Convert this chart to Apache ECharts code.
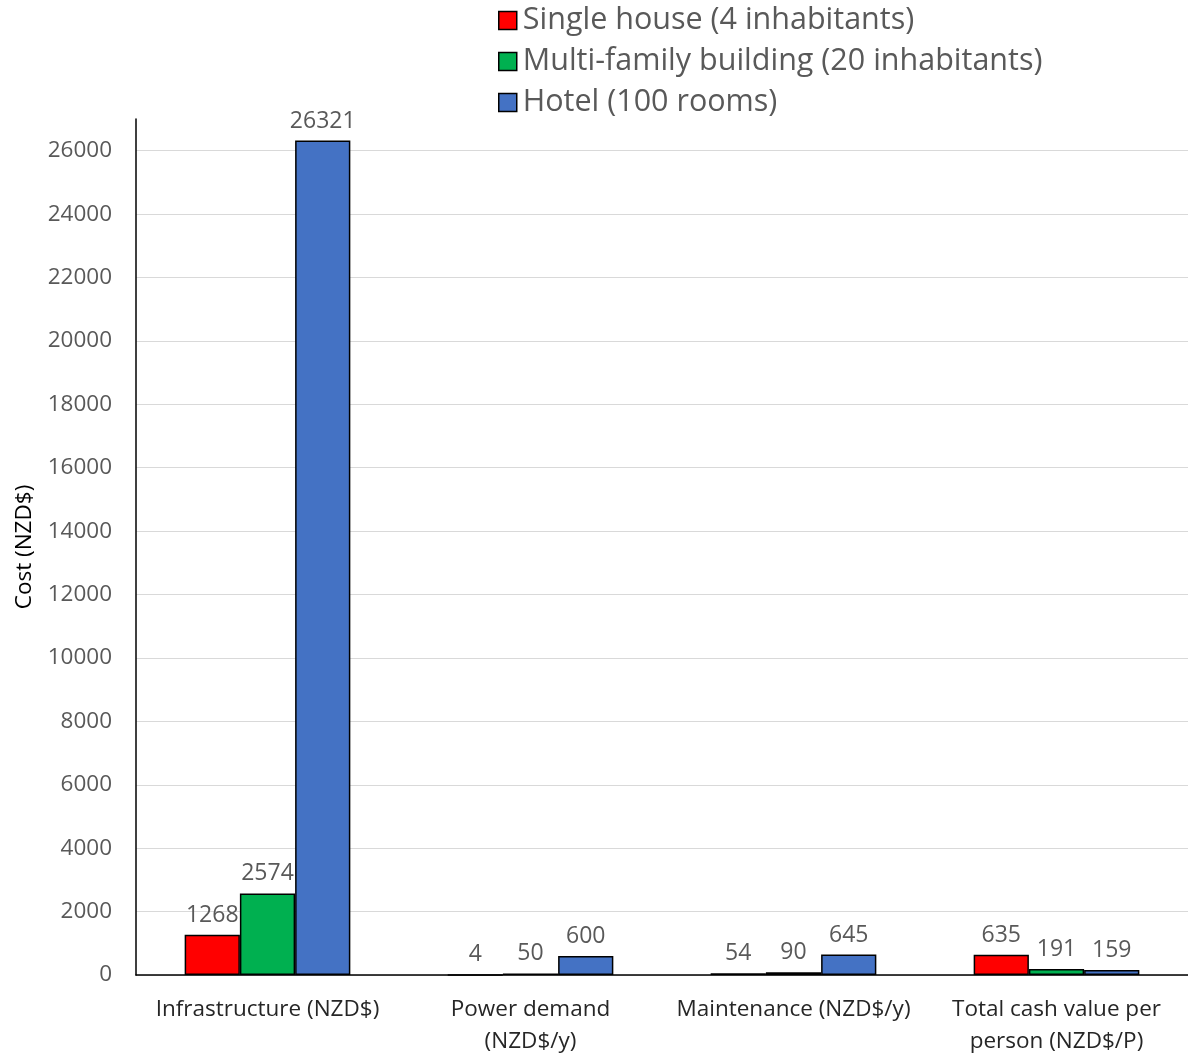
<!DOCTYPE html>
<html>
<head>
<meta charset="utf-8">
<script src="https://cdn.jsdelivr.net/npm/echarts@6/dist/echarts.min.js"></script>
<style>
  html, body { margin: 0; padding: 0; background: #fff; overflow: hidden; }
  #chart { width: 1188px; height: 1058px; }
</style>
</head>
<body>
<div id="chart"></div>
<script>
// Cost categories (x axis)
const categories = [
  'Infrastructure (NZD$)',
  'Power demand\n(NZD$/y)',
  'Maintenance (NZD$/y)',
  'Total cash value per\nperson (NZD$/P)'
];

// Series names
const seriesNames = [
  'Single house (4 inhabitants)',
  'Multi-family building (20 inhabitants)',
  'Hotel (100 rooms)'
];

// Values per series, one per category
const singleHouse = [1268, 4, 54, 635];
const multiFamily = [2574, 50, 90, 191];
const hotel = [26321, 600, 645, 159];

// Value axis settings
const yMin = 0;
const yMax = 27000;
const yStep = 2000;

const colors = ['#ff0000', '#00b050', '#4472c4'];
const FONT = '"Open Sans", "Noto Sans", sans-serif';

const chart = echarts.init(document.getElementById('chart'));

function barSeries(name, data, color) {
  return {
    name: name,
    type: 'bar',
    data: data,
    barGap: '0%',
    barCategoryGap: '37%',
    itemStyle: { color: color, borderColor: '#000', borderWidth: 1.5 },
    label: {
      show: true,
      position: 'top',
      distance: 8,
      color: '#595959',
      fontSize: 23,
      fontFamily: FONT
    }
  };
}

chart.setOption({
  animation: false,
  backgroundColor: '#fff',
  textStyle: { fontFamily: FONT },
  legend: {
    orient: 'vertical',
    left: 493,
    top: 0,
    itemGap: 10,
    itemWidth: 18,
    itemHeight: 18,
    icon: 'rect',
    itemStyle: { borderColor: '#000', borderWidth: 1.5 },
    textStyle: { fontSize: 30.5, color: '#595959', fontFamily: FONT, padding: [0, 0, 0, 1] },
    data: seriesNames
  },
  grid: {
    left: 136,
    right: 0,
    top: 119,
    bottom: 79,
    containLabel: false
  },
  xAxis: {
    type: 'category',
    data: categories,
    axisLine: { show: true, lineStyle: { color: '#000', width: 1.5 } },
    axisTick: { show: false },
    axisLabel: {
      color: '#262626',
      fontSize: 22.5,
      lineHeight: 32,
      margin: 19,
      interval: 0,
      fontFamily: FONT
    }
  },
  yAxis: {
    type: 'value',
    min: yMin,
    max: yMax,
    interval: yStep,
    name: 'Cost (NZD$)',
    nameLocation: 'middle',
    nameGap: 100,
    nameTextStyle: { color: '#000', fontSize: 22.5, fontFamily: FONT },
    axisLine: { show: true, lineStyle: { color: '#000', width: 1.5 } },
    axisTick: { show: false },
    axisLabel: {
      color: '#595959',
      fontSize: 22.5,
      margin: 24,
      showMaxLabel: false,
      fontFamily: FONT,
      formatter: function (v) { return String(v); }
    },
    splitLine: {
      show: true,
      showMaxLine: false,
      lineStyle: { color: '#d9d9d9', width: 1 }
    }
  },
  series: [
    barSeries(seriesNames[0], singleHouse, colors[0]),
    barSeries(seriesNames[1], multiFamily, colors[1]),
    barSeries(seriesNames[2], hotel, colors[2])
  ]
});
</script>
</body>
</html>
